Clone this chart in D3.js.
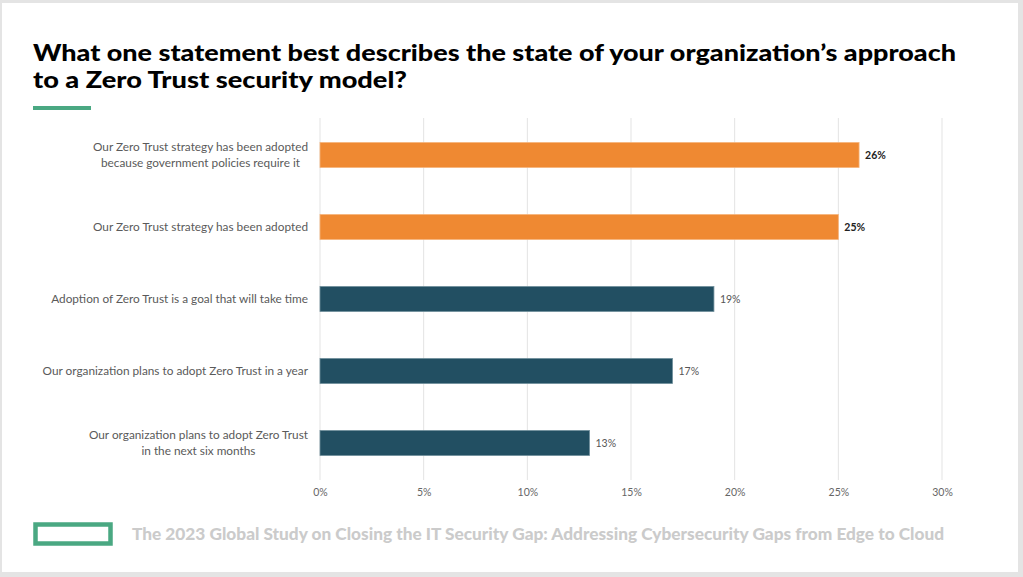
<!DOCTYPE html>
<html><head><meta charset="utf-8">
<script src="https://cdn.jsdelivr.net/npm/d3@7"></script>
<style>html,body{margin:0;padding:0;background:#e4e4e4;}svg{display:block;}</style>
</head><body>
<svg id="c" width="1023" height="577"></svg>
<script>
const categories = [
  "Our Zero Trust strategy has been adopted\nbecause government policies require it",
  "Our Zero Trust strategy has been adopted",
  "Adoption of Zero Trust is a goal that will take time",
  "Our organization plans to adopt Zero Trust in a year",
  "Our organization plans to adopt Zero Trust\nin the next six months"
];
const values = [26, 25, 19, 17, 13];
const highlighted = [true, true, false, false, false];
const xTicks = [0, 5, 10, 15, 20, 25, 30];
const titleLines = ["What one statement best describes the state of your organization\u2019s approach", "to a Zero Trust security model?"];
const footer = "The 2023 Global Study on Closing the IT Security Gap: Addressing Cybersecurity Gaps from Edge to Cloud";

const svg = d3.select("#c");
svg.append("rect").attr("x",2).attr("y",3).attr("width",1016).attr("height",569).attr("fill","#fff");

// title
const tl = [[61, 923],[88, 374]];
titleLines.forEach((t,i)=>{
  svg.append("text").attr("x",33).attr("y",tl[i][0]).text(t)
    .attr("font-family","Lato").attr("font-weight",900).attr("font-size",22.5).attr("fill","#000")
    .attr("textLength",tl[i][1]).attr("lengthAdjust","spacingAndGlyphs");
});
svg.append("rect").attr("x",33).attr("y",106).attr("width",58).attr("height",4).attr("fill","#4aa882");

const x = d3.scaleLinear().domain([0,30]).range([320,942]);
const y = d3.scaleBand().domain(categories).range([119,479]).paddingInner(0.653).paddingOuter(0.3265);

// gridlines
svg.append("g").selectAll("line").data(xTicks).join("line")
  .attr("x1",d=>x(d)).attr("x2",d=>x(d)).attr("y1",118).attr("y2",480)
  .attr("stroke","#e3e3e3").attr("stroke-width",1);

// x axis labels
const xAxis = d3.axisBottom(x).tickValues(xTicks).tickFormat(d=>d+"%").tickSize(0).tickPadding(0);
const gx = svg.append("g").attr("transform","translate(0,489)").call(xAxis);
gx.select(".domain").remove();
gx.selectAll("text").attr("font-family","Lato").attr("font-size",10.5).attr("fill","#666");

// bars
svg.append("g").selectAll("rect").data(categories).join("rect")
  .attr("x",x(0)).attr("y",d=>y(d)).attr("width",(d,i)=>x(values[i])-x(0)).attr("height",y.bandwidth())
  .attr("fill",(d,i)=>highlighted[i]?"#ef8932":"#224f62")
  .attr("stroke",(d,i)=>highlighted[i]?"#f6b47c":"#6f8e9b").attr("stroke-width",0.8);

// value labels
svg.append("g").selectAll("text").data(categories).join("text")
  .attr("x",(d,i)=>x(values[i])+6).attr("y",d=>y(d)+y.bandwidth()/2).attr("dy","0.35em")
  .text((d,i)=>values[i]+"%")
  .attr("font-family","Lato").attr("font-size",10.5)
  .attr("font-weight",(d,i)=>highlighted[i]?700:400)
  .attr("fill",(d,i)=>highlighted[i]?"#222":"#555");

// category labels
const gy = svg.append("g");
categories.forEach(c=>{
  const lines = c.split("\n");
  const cy = y(c)+y.bandwidth()/2;
  const lh = 16;
  const texts = lines.map((ln,j)=>gy.append("text").text(ln)
    .attr("y", cy + (j-(lines.length-1)/2)*lh).attr("dy","0.35em")
    .attr("font-family","Lato").attr("font-size",11.8).attr("fill","#5a5a5a"));
  const widths = texts.map(t=>t.node().getComputedTextLength());
  const mw = Math.max(...widths);
  const center = 308 - mw/2;
  texts.forEach(t=>t.attr("x",center).attr("text-anchor","middle"));
});

// footer
svg.append("rect").attr("x",35.5).attr("y",524.5).attr("width",75).attr("height",19)
  .attr("fill","none").attr("stroke","#4aa882").attr("stroke-width",4.5);
svg.append("text").attr("x",132).attr("y",540).text(footer)
  .attr("font-family","Lato").attr("font-weight",900).attr("font-size",16.5).attr("fill","#cbcbcb")
  .attr("textLength",812).attr("lengthAdjust","spacingAndGlyphs");
</script>
</body></html>
